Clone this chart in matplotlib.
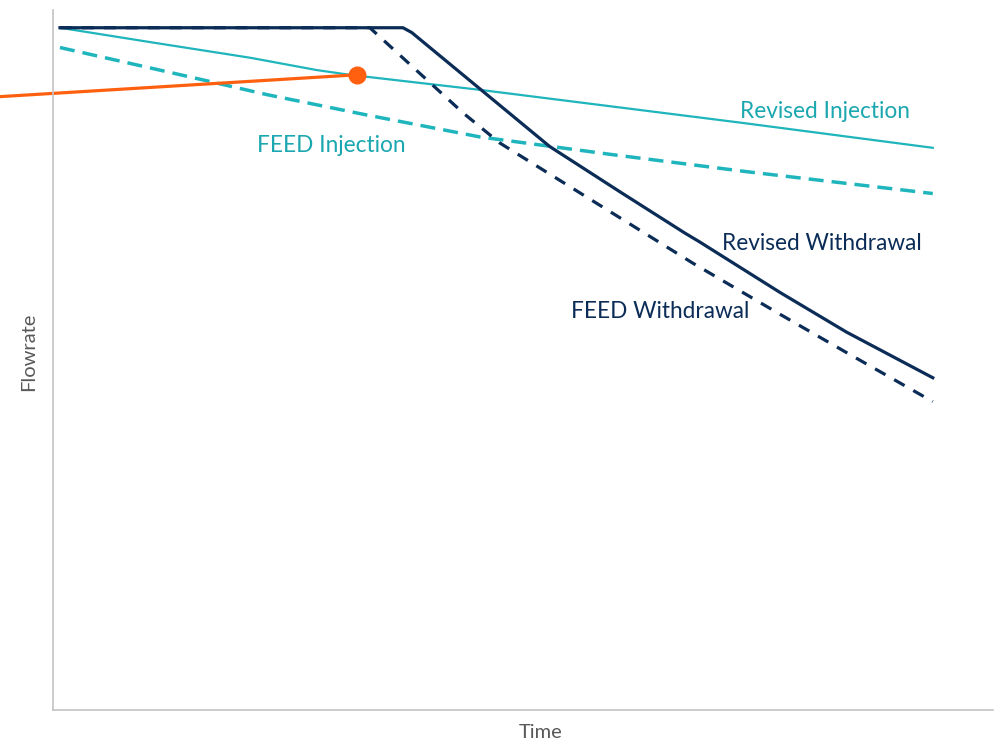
import matplotlib
matplotlib.use("Agg")
import matplotlib.pyplot as plt

plt.rcParams['font.family'] = ['Lato', 'DejaVu Sans']
plt.rcParams['lines.scale_dashes'] = False

TEAL = "#1fb5bd"
NAVY = "#0b2c56"
ORANGE = "#ff6010"
GREY = "#595959"

# flowrate profiles, time and flow in relative units (0-100)
rev_inj_t = [0, 10.3, 21.8, 29.4, 33.2, 48.1, 77.9, 100]
rev_inj_q = [100, 97.9, 95.6, 93.8, 93.1, 90.9, 86.1, 82.4]

feed_inj_t = [0, 15.2, 23.7, 35.2, 48.1, 63.3, 78.7, 100]
feed_inj_q = [97.1, 92.7, 90.2, 87.2, 84.0, 81.4, 78.9, 75.7]

rev_wd_t = [0, 39.3, 40.3, 56.1, 64.1, 71.6, 73.3, 82.5, 90.1, 100]
rev_wd_q = [100, 100, 99.3, 82.6, 76.0, 69.9, 68.6, 61.2, 55.4, 48.7]

feed_wd_t = [0, 35.5, 46.2, 50.4, 72.5, 82.5, 90.1, 100]
feed_wd_q = [100, 100, 87.5, 83.1, 65.5, 58.0, 52.4, 45.2]

# "today" pointer
now_t = [-6.9, 34.0]
now_q = [89.9, 93.1]

fig = plt.figure(figsize=(9.96, 7.40), dpi=100)
ax = fig.add_axes([53 / 996, 30 / 740, 940 / 996, 700 / 740])

ax.plot(rev_inj_t, rev_inj_q, color=TEAL, lw=1.6)
ax.plot(feed_inj_t, feed_inj_q, color=TEAL, lw=2.5, dashes=(10.8, 5.8))
ax.plot(rev_wd_t, rev_wd_q, color=NAVY, lw=2.3, solid_joinstyle='round')
ax.plot(feed_wd_t, feed_wd_q, color=NAVY, lw=2.3, dashes=(8.6, 7.2))
ax.plot(now_t, now_q, color=ORANGE, lw=2.3, clip_on=False)
ax.plot(now_t[-1], now_q[-1], 'o', color=ORANGE, ms=12, clip_on=False)

lbl = dict(fontsize=16.3, va='baseline', ha='left')
ax.text(77.9, 86.7, "Revised Injection", color="#1aa7b0", **lbl)
ax.text(22.6, 81.8, "FEED Injection", color="#1aa7b0", **lbl)
ax.text(75.9, 67.4, "Revised Withdrawal", color=NAVY, **lbl)
ax.text(58.6, 57.5, "FEED Withdrawal", color=NAVY, **lbl)

ax.set_xlim(-0.8, 106.9)
ax.set_ylim(0, 102.6)

ax.set_xticks([])
ax.set_yticks([])
for side in ('top', 'right'):
    ax.spines[side].set_visible(False)
for side in ('left', 'bottom'):
    ax.spines[side].set_color("#c4c4c4")
    ax.spines[side].set_linewidth(1.2)

ax.set_xlabel("Time", color=GREY, fontsize=14.5)
ax.set_ylabel("Flowrate", color=GREY, fontsize=14.5)
ax.xaxis.set_label_coords((541 - 53) / 940, -14 / 700)
ax.yaxis.set_label_coords(-16 / 940, (710 - 352) / 700)

fig.savefig("out.png", dpi=100)
